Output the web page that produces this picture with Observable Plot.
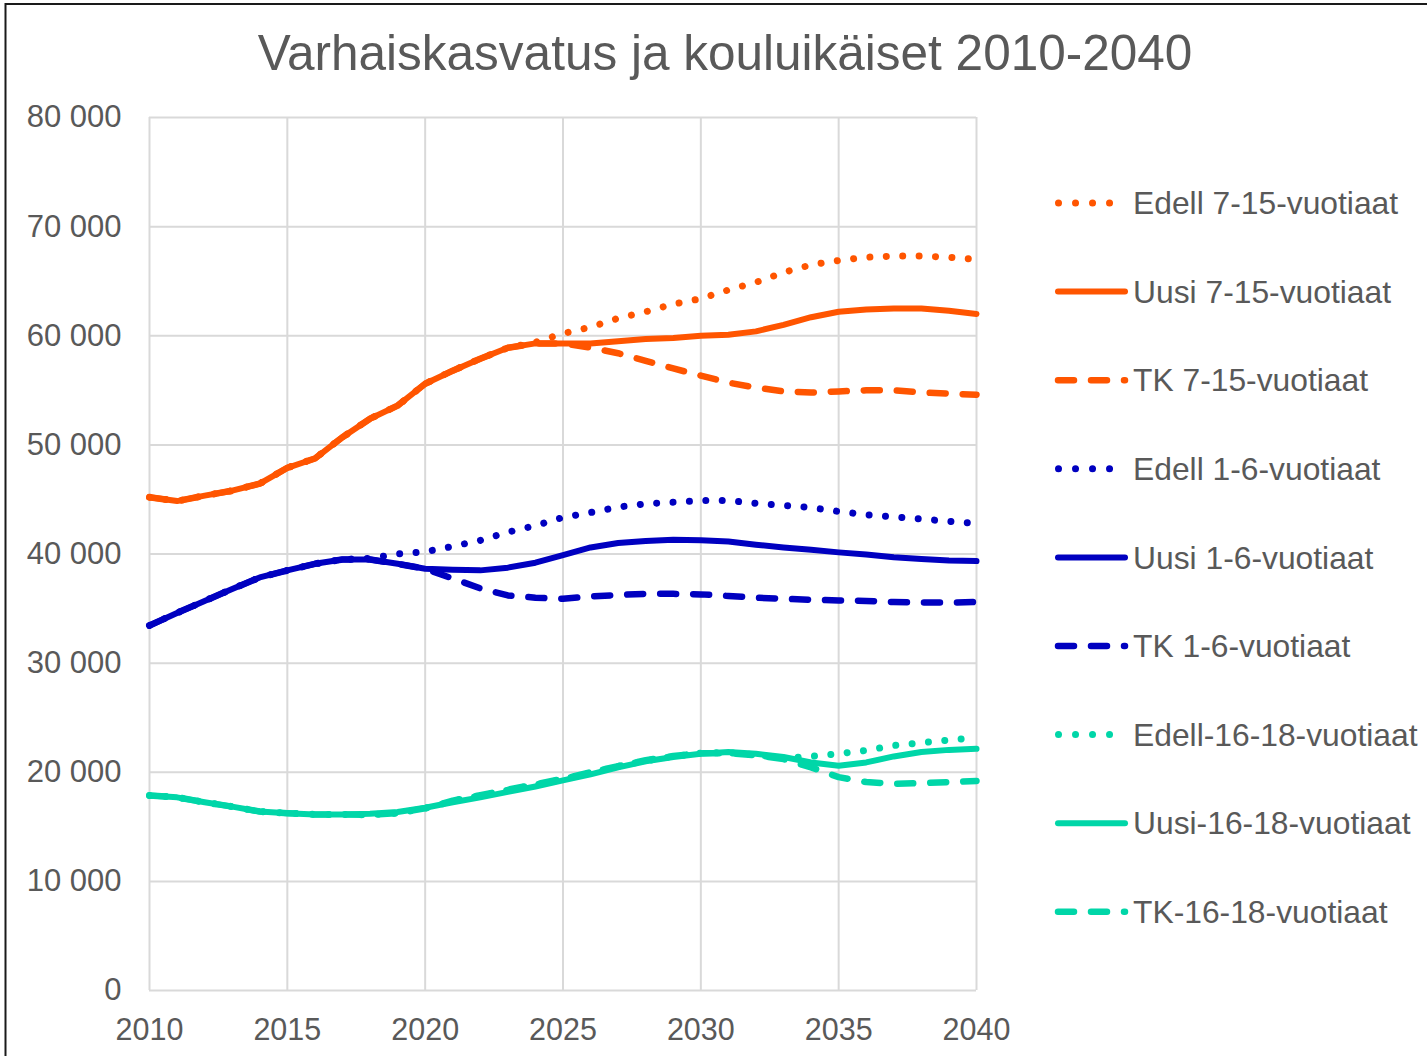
<!DOCTYPE html>
<html>
<head>
<meta charset="utf-8">
<script src="https://cdn.jsdelivr.net/npm/d3@7"></script>
<script src="https://cdn.jsdelivr.net/npm/@observablehq/plot@0.6"></script>
<style>
  html, body { margin: 0; padding: 0; background: #fff; overflow: hidden; }
  #wrap { position: relative; width: 1427px; height: 1056px; }
  #overlay { position: absolute; left: 0; top: 0; pointer-events: none; }
</style>
</head>
<body>
<div id="wrap"></div>
<script>
const title = "Varhaiskasvatus ja kouluikäiset 2010-2040";
const years = d3.range(2010, 2041);
const xTicks = [2010, 2015, 2020, 2025, 2030, 2035, 2040];
const yTicks = [0, 10000, 20000, 30000, 40000, 50000, 60000, 70000, 80000];

const edell715 = [45200,44850,45350,45800,46450,47900,48750,50700,52400,53600,55600,56800,57900,58900,59400,60200,60800,61600,62200,62900,63400,64200,64900,65800,66500,66900,67200,67300,67300,67200,67000];
const uusi715  = [45200,44850,45350,45800,46450,47900,48750,50700,52400,53600,55600,56800,57900,58900,59300,59300,59300,59500,59700,59800,60000,60100,60400,61000,61700,62200,62400,62500,62500,62300,62000];
const tk715    = [45200,44850,45350,45800,46450,47900,48750,50700,52400,53600,55600,56800,57900,58900,59300,59300,58900,58400,57700,57000,56350,55700,55250,54900,54800,54900,55000,55000,54800,54700,54600];

const edell16 = [33450,34600,35700,36800,37850,38500,39100,39500,39600,40000,40200,40700,41250,42000,42600,43350,43800,44300,44600,44750,44900,44900,44650,44450,44250,43900,43600,43400,43200,43000,42800];
const uusi16  = [33450,34600,35700,36800,37850,38500,39100,39500,39500,39100,38650,38550,38500,38750,39200,39900,40600,41000,41200,41300,41250,41150,40850,40600,40400,40150,39950,39700,39550,39400,39350];
const tk16    = [33450,34600,35700,36800,37850,38500,39100,39500,39500,39100,38650,37750,36850,36200,36000,35900,36100,36250,36350,36350,36300,36150,36000,35900,35800,35750,35700,35600,35550,35550,35600];

const edell1618 = [17870,17700,17250,16850,16400,16250,16130,16130,16100,16250,16700,17350,17850,18350,18850,19350,19950,20550,21050,21450,21750,21800,21600,21300,21450,21700,22000,22450,22700,22950,23150];
const uusi1618  = [17870,17700,17250,16850,16400,16250,16130,16130,16200,16350,16750,17250,17700,18200,18700,19250,19800,20450,21000,21400,21700,21850,21700,21400,20900,20600,20900,21450,21850,22050,22150];
const tk1618    = [17870,17700,17250,16850,16400,16250,16130,16130,16100,16250,16700,17400,17900,18400,18900,19400,20000,20550,21100,21500,21750,21750,21550,21200,20450,19550,19100,18950,19000,19100,19200];

const seriesNames = ["Edell 7-15-vuotiaat","Uusi 7-15-vuotiaat","TK 7-15-vuotiaat","Edell 1-6-vuotiaat","Uusi 1-6-vuotiaat","TK 1-6-vuotiaat","Edell-16-18-vuotiaat","Uusi-16-18-vuotiaat","TK-16-18-vuotiaat"];
const seriesValues = [edell715, uusi715, tk715, edell16, uusi16, tk16, edell1618, uusi1618, tk1618];
const seriesColors = ["#FF5500","#FF5500","#FF5500","#0000C0","#0000C0","#0000C0","#00D6A8","#00D6A8","#00D6A8"];
const seriesKinds = ["dot","solid","dash","dot","solid","dash","dot","solid","dash"];

const styleFor = {
  dot:   {strokeWidth: 7,   strokeDasharray: "0.01 16.4"},
  solid: {strokeWidth: 6,   strokeDasharray: null},
  dash:  {strokeWidth: 6.5, strokeDasharray: "16 17"}
};

const W = 1427, H = 1056;
const fmt = v => d3.format(",")(v).replace(/,/g, " ");

const lineMarks = seriesNames.map((name, i) => {
  const data = years.map((y, j) => ({year: y, value: seriesValues[i][j], series: name}));
  const s = styleFor[seriesKinds[i]];
  const opts = {x: "year", y: "value", stroke: seriesColors[i], strokeWidth: s.strokeWidth,
                strokeLinecap: "round", strokeLinejoin: "round"};
  if (s.strokeDasharray) opts.strokeDasharray = s.strokeDasharray;
  return Plot.line(data, opts);
});

const chart = Plot.plot({
  width: W, height: H,
  marginLeft: 149, marginRight: W - 976, marginTop: 117, marginBottom: H - 990,
  style: {fontFamily: "'Liberation Sans', Arial, sans-serif", color: "#595959", background: "#fff"},
  x: {domain: [2010, 2040], label: null},
  y: {domain: [0, 80000], label: null},
  marks: [
    Plot.gridX({ticks: xTicks, stroke: "#d9d9d9", strokeOpacity: 1, strokeWidth: 2}),
    Plot.gridY({ticks: yTicks, stroke: "#d9d9d9", strokeOpacity: 1, strokeWidth: 2}),
    Plot.axisX({ticks: xTicks, tickSize: 0, tickPadding: 28, fontSize: 30.5, tickFormat: d => String(d), fill: "#595959", label: null}),
    Plot.axisY({ticks: yTicks, tickSize: 0, tickPadding: 28, fontSize: 31, tickFormat: fmt, fill: "#595959", label: null}),
    ...lineMarks
  ]
});
document.getElementById("wrap").appendChild(chart);

// overlay: title, legend, chart border
const svg = d3.select("#wrap").append("svg").attr("id", "overlay")
  .attr("width", W).attr("height", H)
  .style("font-family", "'Liberation Sans', Arial, sans-serif");

svg.append("path").attr("d", `M5.5,${H + 10} V4 H${W + 10}`)
  .attr("fill", "none").attr("stroke", "#1a1a1a").attr("stroke-width", 2);

svg.append("text").attr("x", 725).attr("y", 70).attr("text-anchor", "middle")
  .attr("font-size", 49.5).attr("fill", "#595959").text(title);

const leg = svg.append("g");
seriesNames.forEach((name, i) => {
  const cy = 203 + i * 88.6;
  const s = styleFor[seriesKinds[i]];
  const kind = seriesKinds[i];
  const x1 = kind === "dot" ? 1058.5 : 1058;
  const x2 = kind === "dot" ? 1112 : 1125;
  const ln = leg.append("line").attr("x1", x1).attr("x2", x2).attr("y1", cy).attr("y2", cy)
    .attr("stroke", seriesColors[i]).attr("stroke-width", s.strokeWidth)
    .attr("stroke-linecap", "round");
  if (kind === "dot") ln.attr("stroke-dasharray", "0.01 17");
  if (kind === "dash") ln.attr("stroke-dasharray", "16 17");
  leg.append("text").attr("x", 1133).attr("y", cy).attr("dy", "0.35em")
    .attr("font-size", 31.8).attr("fill", "#595959").text(name);
});
</script>
</body>
</html>
